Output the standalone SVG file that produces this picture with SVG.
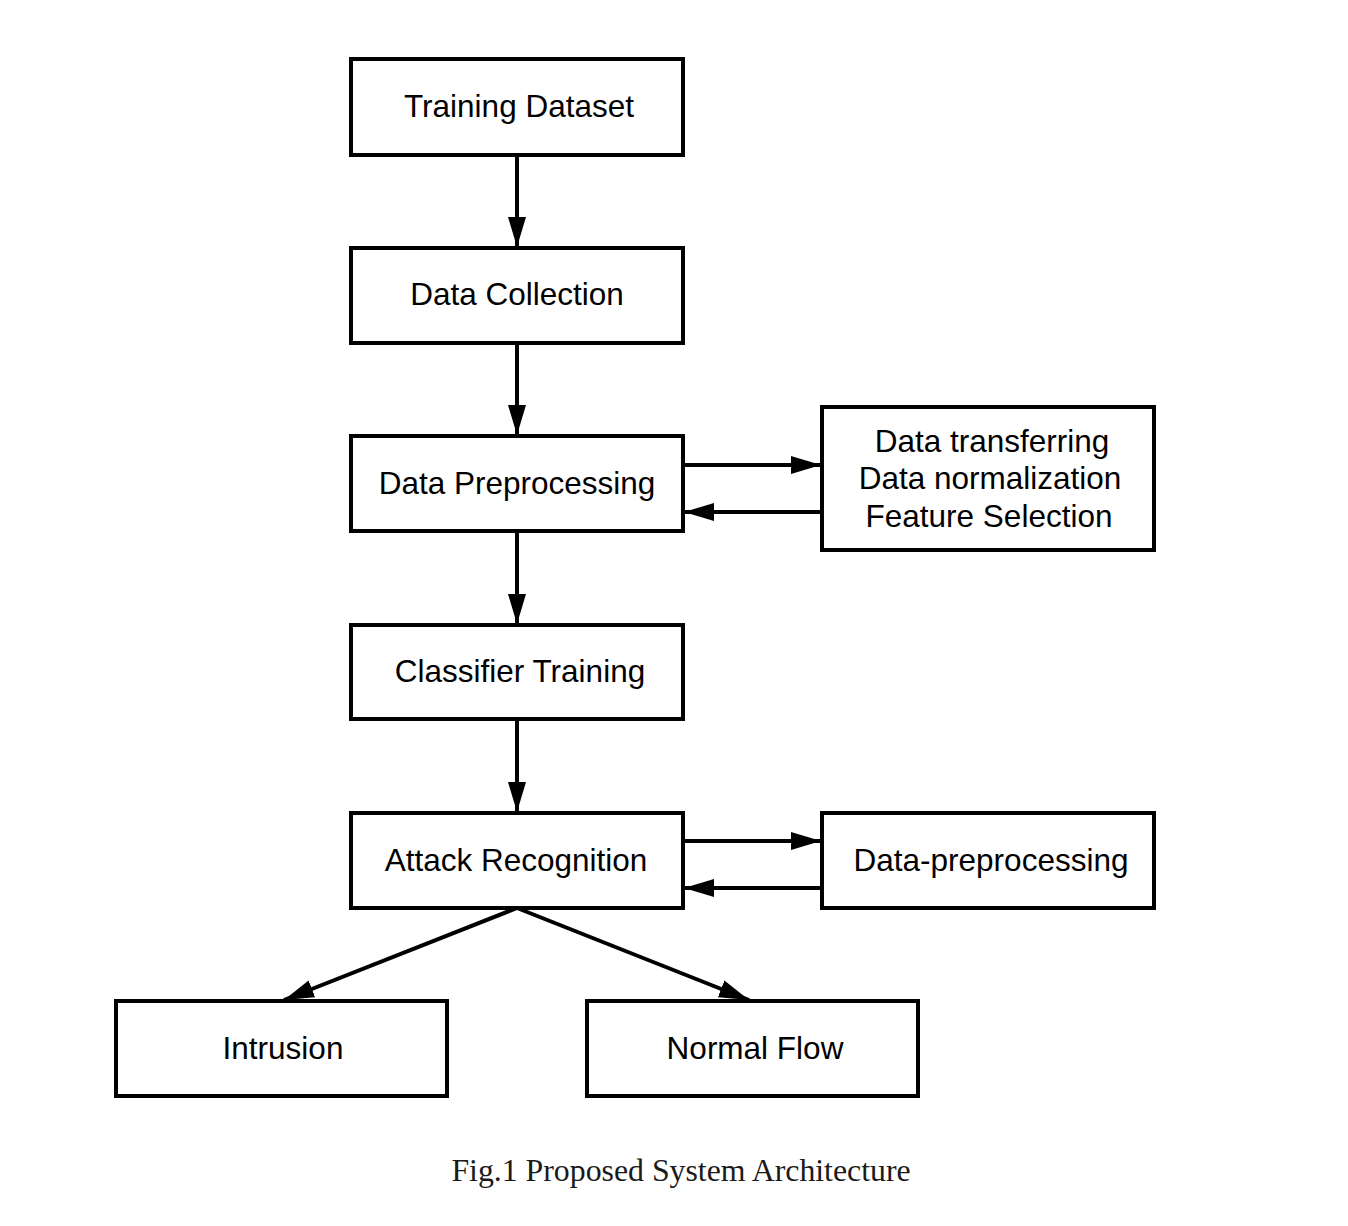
<svg xmlns="http://www.w3.org/2000/svg" width="1348" height="1226" viewBox="0 0 1348 1226">
<style>
.box{fill:#fff;stroke:#000;stroke-width:4}
.lbl{font-family:"Liberation Sans",Arial,sans-serif;font-size:31.5px;fill:#000;text-anchor:middle}
.cap{font-family:"Liberation Serif","Times New Roman",serif;font-size:31.8px;fill:#1a1a1a;text-anchor:middle}
.con line{stroke:#000;stroke-width:4;fill:none}
</style>
<defs>
<marker id="ah" markerUnits="userSpaceOnUse" markerWidth="31" markerHeight="20" refX="30" refY="10" orient="auto" viewBox="0 0 31 20">
<path d="M0,1 L30,10 L0,19 Z" fill="#000"/>
</marker>
</defs>
<rect width="1348" height="1226" fill="#fff"/>
<g id="connectors" class="con">
<line x1="517" y1="155" x2="517" y2="247" marker-end="url(#ah)"/>
<line x1="517" y1="343" x2="517" y2="435" marker-end="url(#ah)"/>
<line x1="517" y1="531" x2="517" y2="624" marker-end="url(#ah)"/>
<line x1="517" y1="719" x2="517" y2="812" marker-end="url(#ah)"/>
<line x1="683" y1="465" x2="821" y2="465" marker-end="url(#ah)"/>
<line x1="822" y1="512" x2="684" y2="512" marker-end="url(#ah)"/>
<line x1="683" y1="841" x2="821" y2="841" marker-end="url(#ah)"/>
<line x1="822" y1="888" x2="684" y2="888" marker-end="url(#ah)"/>
<line x1="517" y1="908" x2="284" y2="1000" marker-end="url(#ah)"/>
<line x1="517" y1="908" x2="749" y2="1000" marker-end="url(#ah)"/>
</g>
<g id="n-training"><rect class="box" x="351" y="59" width="332" height="96"/><text class="lbl" x="519" y="117">Training Dataset</text></g>
<g id="n-collection"><rect class="box" x="351" y="248" width="332" height="95"/><text class="lbl" x="517" y="305">Data Collection</text></g>
<g id="n-preproc"><rect class="box" x="351" y="436" width="332" height="95"/><text class="lbl" x="517" y="494">Data Preprocessing</text></g>
<g id="n-steps"><rect class="box" x="822" y="407" width="332" height="143"/>
<text class="lbl" x="992" y="452">Data transferring</text>
<text class="lbl" x="990" y="489">Data normalization</text>
<text class="lbl" x="989" y="527">Feature Selection</text></g>
<g id="n-classifier"><rect class="box" x="351" y="625" width="332" height="94"/><text class="lbl" x="520" y="682">Classifier Training</text></g>
<g id="n-attack"><rect class="box" x="351" y="813" width="332" height="95"/><text class="lbl" x="516" y="871">Attack Recognition</text></g>
<g id="n-dataprep"><rect class="box" x="822" y="813" width="332" height="95"/><text class="lbl" x="991" y="871">Data-preprocessing</text></g>
<g id="n-intrusion"><rect class="box" x="116" y="1001" width="331" height="95"/><text class="lbl" x="283" y="1059">Intrusion</text></g>
<g id="n-normal"><rect class="box" x="587" y="1001" width="331" height="95"/><text class="lbl" x="755" y="1059">Normal Flow</text></g>
<text class="cap" x="681" y="1181">Fig.1 Proposed System Architecture</text>
</svg>
